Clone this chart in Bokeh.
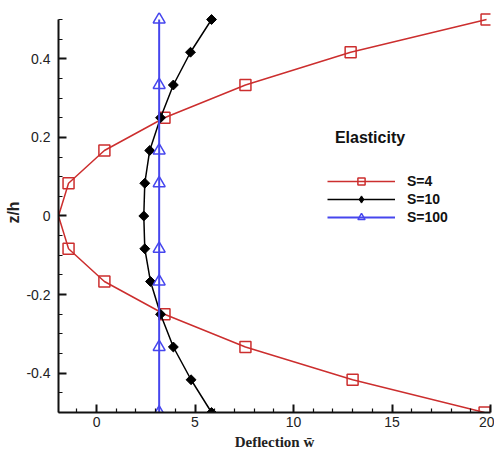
import math
from bokeh.plotting import figure
from bokeh.models import Range1d, FixedTicker, Legend, LegendItem, Label
from bokeh.embed import file_html
from bokeh.resources import INLINE

# ---- data ----
z_s4 = [0.5, 0.4167, 0.3333, 0.25, 0.1667, 0.0833, 0.0, -0.0833, -0.1667, -0.25, -0.3333, -0.4167, -0.5]
w_s4 = [19.8, 12.9, 7.56, 3.45, 0.40, -1.42, -1.93, -1.42, 0.40, 3.45, 7.56, 13.0, 19.7]

z_s10 = [0.5, 0.4167, 0.3333, 0.25, 0.1667, 0.0833, 0.0, -0.0833, -0.1667, -0.25, -0.3333, -0.4167, -0.5]
w_s10 = [5.84, 4.77, 3.90, 3.25, 2.70, 2.45, 2.40, 2.45, 2.74, 3.25, 3.90, 4.80, 5.84]

z_s100 = [0.5, 0.3333, 0.1667, 0.0833, -0.0833, -0.1667, -0.3333, -0.5]
w_s100 = [3.18, 3.18, 3.18, 3.18, 3.18, 3.18, 3.18, 3.18]

series_names = ["S=4", "S=10", "S=100"]
legend_title = "Elasticity"

x_ticks = [0, 5, 10, 15, 20]
x_tick_labels = ["0", "5", "10", "15", "20"]
y_ticks = [-0.4, -0.2, 0.0, 0.2, 0.4]
y_tick_labels = ["-0.4", "-0.2", "0", "0.2", "0.4"]
x_label = "Deflection w\u0304"
y_label = "z/h"

RED = "#cc2e2e"
BLUE = "#4646ee"
BLACK = "#000000"

p = figure(frame_width=432, frame_height=400,
           x_range=Range1d(-1.93, 20), y_range=Range1d(-0.5, 0.5178),
           output_backend="svg", toolbar_location=None,
           min_border_left=58, min_border_right=4, min_border_top=12, min_border_bottom=10)
p.outline_line_color = None
p.grid.visible = False
p.background_fill_color = "white"
p.border_fill_color = "white"

for ax in (p.xaxis[0], p.yaxis[0]):
    ax.axis_line_width = 2
    ax.axis_line_color = "#111111"
    ax.major_tick_in = 8
    ax.major_tick_out = 0
    ax.minor_tick_in = 4
    ax.minor_tick_out = 0
    ax.major_tick_line_width = 2
    ax.minor_tick_line_width = 1.2
    ax.major_tick_line_color = "#111111"
    ax.minor_tick_line_color = "#111111"
    ax.major_label_text_font = "Liberation Sans"
    ax.major_label_text_font_size = "14px"
    ax.major_label_text_color = "#222222"

xminor = [v for v in range(-1, 20) if v % 5 != 0]
p.xaxis[0].ticker = FixedTicker(ticks=x_ticks, minor_ticks=xminor)
p.xaxis[0].major_label_overrides = {t: l for t, l in zip(x_ticks, x_tick_labels)}
p.xaxis[0].major_label_standoff = 4
p.xaxis[0].axis_label = x_label
p.xaxis[0].axis_label_text_font = "Liberation Serif"
p.xaxis[0].axis_label_text_font_style = "bold"
p.xaxis[0].axis_label_text_font_size = "15px"
p.xaxis[0].axis_label_text_color = "#222222"
p.xaxis[0].axis_label_standoff = 4

yminor = [round(-0.5 + 0.05 * i, 2) for i in range(21) if i % 4 != 2]
p.yaxis[0].ticker = FixedTicker(ticks=y_ticks, minor_ticks=yminor)
p.yaxis[0].major_label_overrides = {t: l for t, l in zip(y_ticks, y_tick_labels)}
p.yaxis[0].major_label_standoff = 8
p.yaxis[0].bounds = (-0.5, 0.5)
p.yaxis[0].axis_label = y_label
p.yaxis[0].axis_label_text_font = "Liberation Sans"
p.yaxis[0].axis_label_text_font_style = "bold"
p.yaxis[0].axis_label_text_font_size = "16px"
p.yaxis[0].axis_label_text_color = "#222222"
p.yaxis[0].axis_label_standoff = 1

# S=4
l4 = p.line(w_s4, z_s4, line_color=RED, line_width=1.5)
mk4 = [i for i, z in enumerate(z_s4) if z != 0.0]
s4 = p.scatter([w_s4[i] for i in mk4], [z_s4[i] for i in mk4], marker="square",
               size=11, fill_color="white", fill_alpha=0, line_color=RED, line_width=1.5)
# S=10
l10 = p.line(w_s10, z_s10, line_color=BLACK, line_width=1.5)
# diamond glyph used as the legend key (sits under the first rotated-square marker)
s10_key = p.scatter(w_s10[:1], z_s10[:1], marker="diamond", size=9,
                    fill_color=BLACK, line_color=BLACK)
s10 = p.scatter(w_s10, z_s10, marker="square", angle=math.pi / 4, size=7,
                fill_color=BLACK, line_color=BLACK)
# S=100
l100 = p.line(w_s100, z_s100, line_color=BLUE, line_width=2)
s100 = p.scatter(w_s100, z_s100, marker="triangle", size=12, fill_color="white", fill_alpha=0,
                 line_color=BLUE, line_width=1.5)

legend = Legend(items=[
    LegendItem(label=series_names[0], renderers=[l4, s4]),
    LegendItem(label=series_names[1], renderers=[l10, s10_key]),
    LegendItem(label=series_names[2], renderers=[l100, s100]),
], location=(269, 186), glyph_width=68, glyph_height=18, label_height=18, spacing=0,
    padding=0, margin=0, border_line_color=None, background_fill_alpha=0,
    label_text_font="Liberation Sans", label_text_font_style="bold",
    label_text_font_size="14px", label_text_color="#111111", label_standoff=12)
p.add_layout(legend)

p.add_layout(Label(x=12.1, y=0.2, text=legend_title, text_font="Liberation Sans",
                   text_font_style="bold", text_font_size="16px", text_color="#111111",
                   text_baseline="middle", text_align="left"))

open("out.html", "w").write(file_html(p, INLINE))
